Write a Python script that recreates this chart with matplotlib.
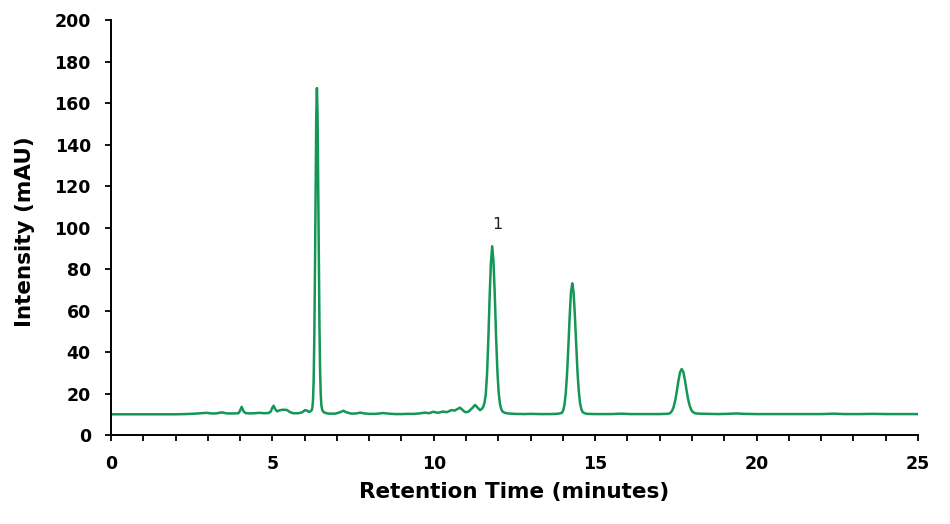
import matplotlib
matplotlib.use("Agg")
import matplotlib.pyplot as plt

# Retention time (minutes) and intensity (mAU)
time_min = [0.0, 1.0, 2.0, 2.3, 2.6, 2.8, 2.96, 3.1, 3.25, 3.43, 3.6, 3.8, 3.95,
            4.00, 4.05, 4.10, 4.16, 4.3, 4.45, 4.6, 4.75, 4.88, 4.95, 5.00, 5.04,
            5.09, 5.15, 5.22, 5.33, 5.45, 5.55, 5.65, 5.8, 5.92, 6.01, 6.07, 6.12,
            6.17, 6.22, 6.24, 6.26, 6.28, 6.30, 6.32, 6.34, 6.36, 6.38, 6.40, 6.42,
            6.44, 6.46, 6.48, 6.50, 6.52, 6.55, 6.60, 6.70, 6.8, 6.95, 7.1, 7.2,
            7.3, 7.45, 7.6, 7.72, 7.85, 8.0, 8.2, 8.43, 8.6, 8.8, 9.0, 9.2, 9.4,
            9.55, 9.73, 9.85, 9.98, 10.12, 10.29, 10.4, 10.55, 10.65, 10.81, 10.97,
            11.07, 11.18, 11.28, 11.36, 11.43, 11.49, 11.53, 11.57, 11.61, 11.65,
            11.69, 11.73, 11.77, 11.81, 11.85, 11.89, 11.93, 11.97, 12.01, 12.05,
            12.09, 12.13, 12.2, 12.3, 12.5, 12.8, 13.0, 13.3, 13.6, 13.8, 13.9,
            13.97, 14.01, 14.05, 14.09, 14.13, 14.17, 14.21, 14.25, 14.29, 14.33,
            14.37, 14.41, 14.45, 14.49, 14.53, 14.57, 14.61, 14.67, 14.75, 15.0,
            15.5, 15.8, 16.1, 16.5, 17.0, 17.2, 17.28, 17.33, 17.38, 17.43, 17.48,
            17.53, 17.58, 17.63, 17.68, 17.73, 17.78, 17.83, 17.88, 17.93, 17.98,
            18.03, 18.1, 18.2, 18.5, 18.8, 19.1, 19.38, 19.6, 20.0, 20.5, 21.0,
            21.5, 22.0, 22.4, 22.7, 23.2, 23.6, 24.0, 24.5, 25.0]
intensity_mau = [10.0, 10.0, 10.0, 10.1, 10.3, 10.5, 10.7, 10.4, 10.4, 10.9, 10.4, 10.4, 10.5,
                 11.8, 13.6, 11.6, 10.6, 10.4, 10.5, 10.7, 10.5, 10.6, 11.3, 13.2, 14.1,
                 12.4, 11.4, 11.9, 12.2, 12.1, 11.0, 10.5, 10.5, 10.9, 12.0, 11.8, 11.2,
                 11.3, 12.0, 13.2, 17.0, 27.0, 47.5, 80.0, 120.0, 154.0, 167.2, 154.0, 121.0,
                 83.0, 51.0, 30.0, 19.0, 14.0, 11.8, 10.9, 10.4, 10.3, 10.3, 11.0, 11.7,
                 10.9, 10.3, 10.4, 10.8, 10.4, 10.2, 10.2, 10.6, 10.3, 10.1, 10.1, 10.2, 10.2,
                 10.4, 10.8, 10.5, 11.2, 10.7, 11.3, 11.0, 12.0, 11.8, 13.2, 11.0,
                 11.2, 12.8, 14.5, 13.2, 12.0, 12.6, 13.5, 15.5, 19.5, 29.2,
                 45.8, 66.3, 83.0, 91.0, 83.5, 67.5, 47.5, 31.0, 20.5, 15.0,
                 12.5, 11.3, 10.7, 10.4, 10.2, 10.1, 10.2, 10.1, 10.1, 10.2, 10.4,
                 10.7, 11.9, 14.7, 20.4, 29.8, 42.9, 57.2, 68.7, 73.1, 69.0,
                 58.0, 44.0, 31.0, 21.5, 15.5, 12.5, 11.1, 10.5, 10.2, 10.1,
                 10.1, 10.3, 10.1, 10.1, 10.1, 10.2, 10.3, 10.7, 11.6, 13.5, 16.7,
                 21.2, 26.2, 30.3, 31.8, 30.4, 26.5, 21.6, 17.2, 14.0, 12.0,
                 11.0, 10.5, 10.3, 10.2, 10.1, 10.2, 10.4, 10.2, 10.1, 10.1, 10.1,
                 10.1, 10.1, 10.3, 10.1, 10.1, 10.2, 10.1, 10.1, 10.1]

peak_label = "1"
peak_label_pos = (11.96, 101.5)

x_major = [0, 5, 10, 15, 20, 25]
x_minor = list(range(0, 26))
y_major = list(range(0, 201, 20))

plt.rcParams['font.family'] = ['DejaVu Sans']

fig = plt.figure(figsize=(9.5, 5.24), dpi=100)
ax = fig.add_axes([0.1168, 0.1698, 0.8495, 0.792])

ax.plot(time_min, intensity_mau, color='#139656', lw=1.8, solid_joinstyle='round')
ax.text(peak_label_pos[0], peak_label_pos[1], peak_label, ha='center', va='center',
        fontsize=11.5, color='#222222')

ax.set_xlim(0, 25)
ax.set_ylim(0, 200)
ax.set_xticks(x_major)
ax.set_xticks(x_minor, minor=True)
ax.set_yticks(y_major)

for s in ['top', 'right']:
    ax.spines[s].set_visible(False)
for s in ['left', 'bottom']:
    ax.spines[s].set_linewidth(1.4)
    ax.spines[s].set_color('black')

ax.tick_params(axis='both', which='both', direction='out', length=4.5, width=1.3,
               color='black')
ax.tick_params(axis='both', which='major', labelsize=12.5, pad=10)
for lbl in ax.get_xticklabels() + ax.get_yticklabels():
    lbl.set_fontweight('bold')

ax.set_xlabel('Retention Time (minutes)', fontsize=15.5, fontweight='bold')
ax.set_ylabel('Intensity (mAU)', fontsize=15.5, fontweight='bold')
ax.xaxis.label.set_va('center')
ax.yaxis.label.set_va('center')
ax.xaxis.set_label_coords(0.4994, -0.137)
ax.yaxis.set_label_coords(-0.1066, 0.49)

fig.savefig('out.png', dpi=100, facecolor='white')
